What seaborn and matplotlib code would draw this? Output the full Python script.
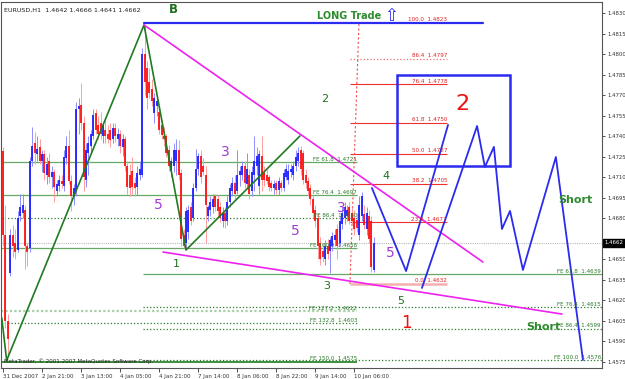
import matplotlib
matplotlib.use("Agg")
import matplotlib.pyplot as plt
from matplotlib.patches import Rectangle
from matplotlib.transforms import blended_transform_factory
import numpy as np
import pandas as pd
import seaborn as sns

# ---------------- data ----------------
opens = [1.4729, 1.4668, 1.4605, 1.4640, 1.4668, 1.4662, 1.4657, 1.4682, 1.4684, 1.4686,
         1.4660, 1.4658, 1.4722, 1.4735, 1.4727, 1.4732, 1.4722, 1.4727, 1.4712, 1.4722,
         1.4710, 1.4714, 1.4700, 1.4704, 1.4707, 1.4704, 1.4724, 1.4733, 1.4707, 1.4696,
         1.4700, 1.4760, 1.4763, 1.4750, 1.4708, 1.4728, 1.4733, 1.4740, 1.4757, 1.4748,
         1.4750, 1.4740, 1.4745, 1.4742, 1.4745, 1.4738, 1.4746, 1.4738, 1.4742, 1.4732,
         1.4738, 1.4718, 1.4712, 1.4715, 1.4706, 1.4703, 1.4712, 1.4712, 1.4800, 1.4790,
         1.4780, 1.4775, 1.4757, 1.4762, 1.4758, 1.4748, 1.4740, 1.4740, 1.4730, 1.4715,
         1.4718, 1.4722, 1.4730, 1.4713, 1.4668, 1.4662, 1.4670, 1.4688, 1.4680, 1.4702,
         1.4716, 1.4726, 1.4718, 1.4712, 1.4682, 1.4686, 1.4688, 1.4696, 1.4694, 1.4688,
         1.4678, 1.4684, 1.4678, 1.4692, 1.4700, 1.4706, 1.4700, 1.4712, 1.4712, 1.4718,
         1.4705, 1.4712, 1.4700, 1.4712, 1.4718, 1.4704, 1.4726, 1.4714, 1.4712, 1.4710,
         1.4706, 1.4702, 1.4706, 1.4701, 1.4706, 1.4702, 1.4710, 1.4708, 1.4714, 1.4712,
         1.4718, 1.4722, 1.4730, 1.4728, 1.4712, 1.4707, 1.4702, 1.4694, 1.4686, 1.4680,
         1.4662, 1.4656, 1.4650, 1.4660, 1.4656, 1.4660, 1.4664, 1.4672, 1.4662, 1.4676,
         1.4680, 1.4682, 1.4688, 1.4684, 1.4680, 1.4679, 1.4668, 1.4682, 1.4683, 1.4672,
         1.4682, 1.4678, 1.4642]
highs = [1.4732, 1.4690, 1.4610, 1.4672, 1.4675, 1.4672, 1.4685, 1.4698, 1.4698, 1.4690,
         1.4662, 1.4725, 1.4747, 1.4743, 1.4740, 1.4738, 1.4730, 1.4730, 1.4725, 1.4728,
         1.4718, 1.4716, 1.4708, 1.4712, 1.4712, 1.4730, 1.4740, 1.4745, 1.4712, 1.4705,
         1.4765, 1.4768, 1.4779, 1.4755, 1.4735, 1.4740, 1.4745, 1.4760, 1.4760, 1.4755,
         1.4758, 1.4750, 1.4752, 1.4748, 1.4750, 1.4750, 1.4750, 1.4746, 1.4745, 1.4742,
         1.4740, 1.4722, 1.4720, 1.4725, 1.4710, 1.4718, 1.4722, 1.4805, 1.4821, 1.4795,
         1.4790, 1.4782, 1.4772, 1.4770, 1.4760, 1.4752, 1.4747, 1.4742, 1.4734, 1.4725,
         1.4735, 1.4738, 1.4737, 1.4716, 1.4672, 1.4688, 1.4690, 1.4692, 1.4706, 1.4731,
         1.4728, 1.4730, 1.4724, 1.4718, 1.4690, 1.4696, 1.4698, 1.4698, 1.4697, 1.4692,
         1.4688, 1.4688, 1.4696, 1.4705, 1.4710, 1.4712, 1.4730, 1.4718, 1.4722, 1.4722,
         1.4728, 1.4716, 1.4718, 1.4740, 1.4732, 1.4730, 1.4740, 1.4718, 1.4716, 1.4712,
         1.4708, 1.4708, 1.4708, 1.4710, 1.4708, 1.4716, 1.4720, 1.4720, 1.4720, 1.4722,
         1.4730, 1.4732, 1.4733, 1.4730, 1.4716, 1.4710, 1.4705, 1.4697, 1.4690, 1.4684,
         1.4666, 1.4662, 1.4664, 1.4665, 1.4666, 1.4670, 1.4672, 1.4676, 1.4682, 1.4688,
         1.4692, 1.4690, 1.4692, 1.4688, 1.4686, 1.4684, 1.4696, 1.4699, 1.4690, 1.4688,
         1.4686, 1.4682, 1.4666]
lows = [1.4660, 1.4600, 1.4580, 1.4638, 1.4652, 1.4650, 1.4655, 1.4678, 1.4680, 1.4643,
        1.4645, 1.4655, 1.4718, 1.4720, 1.4722, 1.4720, 1.4714, 1.4708, 1.4705, 1.4706,
        1.4702, 1.4692, 1.4696, 1.4700, 1.4702, 1.4700, 1.4720, 1.4705, 1.4685, 1.4690,
        1.4696, 1.4742, 1.4745, 1.4700, 1.4703, 1.4712, 1.4728, 1.4738, 1.4742, 1.4738,
        1.4738, 1.4735, 1.4735, 1.4735, 1.4732, 1.4735, 1.4736, 1.4733, 1.4728, 1.4726,
        1.4715, 1.4698, 1.4696, 1.4698, 1.4696, 1.4697, 1.4708, 1.4710, 1.4770, 1.4760,
        1.4768, 1.4762, 1.4750, 1.4755, 1.4742, 1.4738, 1.4733, 1.4725, 1.4715, 1.4710,
        1.4714, 1.4712, 1.4708, 1.4660, 1.4658, 1.4658, 1.4665, 1.4675, 1.4678, 1.4700,
        1.4712, 1.4706, 1.4712, 1.4662, 1.4678, 1.4682, 1.4684, 1.4685, 1.4680, 1.4677,
        1.4674, 1.4673, 1.4675, 1.4688, 1.4696, 1.4694, 1.4698, 1.4704, 1.4708, 1.4702,
        1.4702, 1.4694, 1.4696, 1.4700, 1.4712, 1.4698, 1.4700, 1.4704, 1.4705, 1.4700,
        1.4700, 1.4698, 1.4698, 1.4697, 1.4699, 1.4700, 1.4708, 1.4705, 1.4710, 1.4708,
        1.4715, 1.4718, 1.4712, 1.4705, 1.4702, 1.4696, 1.4690, 1.4680, 1.4674, 1.4650,
        1.4646, 1.4648, 1.4646, 1.4650, 1.4640, 1.4656, 1.4660, 1.4650, 1.4660, 1.4672,
        1.4676, 1.4678, 1.4676, 1.4675, 1.4668, 1.4670, 1.4664, 1.4678, 1.4672, 1.4668,
        1.4662, 1.4641, 1.4641]
closes = [1.4668, 1.4605, 1.4592, 1.4668, 1.4660, 1.4655, 1.4680, 1.4688, 1.4690, 1.4660,
          1.4655, 1.4722, 1.4733, 1.4728, 1.4731, 1.4722, 1.4727, 1.4713, 1.4720, 1.4710,
          1.4714, 1.4703, 1.4705, 1.4708, 1.4705, 1.4725, 1.4733, 1.4707, 1.4696, 1.4702,
          1.4760, 1.4762, 1.4750, 1.4710, 1.4730, 1.4735, 1.4742, 1.4756, 1.4745, 1.4742,
          1.4742, 1.4748, 1.4740, 1.4738, 1.4737, 1.4746, 1.4740, 1.4742, 1.4733, 1.4738,
          1.4718, 1.4703, 1.4702, 1.4703, 1.4702, 1.4713, 1.4716, 1.4800, 1.4780, 1.4768,
          1.4772, 1.4766, 1.4768, 1.4766, 1.4745, 1.4741, 1.4738, 1.4728, 1.4718, 1.4722,
          1.4730, 1.4730, 1.4712, 1.4665, 1.4660, 1.4685, 1.4686, 1.4678, 1.4702, 1.4716,
          1.4726, 1.4710, 1.4714, 1.4690, 1.4688, 1.4692, 1.4694, 1.4688, 1.4685, 1.4680,
          1.4684, 1.4678, 1.4692, 1.4702, 1.4706, 1.4698, 1.4712, 1.4715, 1.4718, 1.4706,
          1.4716, 1.4698, 1.4714, 1.4722, 1.4726, 1.4727, 1.4708, 1.4708, 1.4707, 1.4703,
          1.4702, 1.4705, 1.4701, 1.4707, 1.4702, 1.4713, 1.4716, 1.4715, 1.4716, 1.4718,
          1.4725, 1.4728, 1.4716, 1.4708, 1.4706, 1.4700, 1.4694, 1.4684, 1.4678, 1.4660,
          1.4650, 1.4652, 1.4660, 1.4654, 1.4664, 1.4667, 1.4668, 1.4660, 1.4678, 1.4684,
          1.4688, 1.4686, 1.4678, 1.4678, 1.4672, 1.4673, 1.4690, 1.4696, 1.4675, 1.4684,
          1.4665, 1.4644, 1.4662]

x_tick_bars = [0, 16, 32, 48, 64, 80, 96, 112, 128, 144]
x_tick_labels = ["31 Dec 2007", "2 Jan 21:00", "3 Jan 13:00", "4 Jan 05:00", "4 Jan 21:00",
                 "7 Jan 14:00", "8 Jan 06:00", "8 Jan 22:00", "9 Jan 14:00", "10 Jan 06:00"]
y_tick_values = [1.4575, 1.4590, 1.4605, 1.4620, 1.4635, 1.4650, 1.4680, 1.4695, 1.4710,
                 1.4725, 1.4740, 1.4755, 1.4770, 1.4785, 1.4800, 1.4815, 1.4830]
current_price = 1.4662

# green zigzag
zz_bars = [-0.5, 1.5, 57.8, 75.0, 121.7]
zz_prices = [1.4607, 1.4576, 1.48216, 1.46568, 1.47403]
# magenta trend lines
mag_upper_bars = [57.8, 196.7]
mag_upper_prices = [1.48216, 1.46480]
mag_lower_bars = [65.6, 229.1]
mag_lower_prices = [1.46553, 1.46099]
# blue 100% line
blue_top_bars = [57.8, 196.7]
blue_top_prices = [1.4823, 1.4823]
# blue projection paths
projA_bars = [151.2, 165.2, 182.4]
projA_prices = [1.47022, 1.46414, 1.47484]
projB_bars = [171.7, 194.3, 197.5, 201.2, 204.5, 207.8, 213.1, 226.6, 237.7]
projB_prices = [1.46290, 1.47476, 1.47176, 1.47323, 1.46722, 1.46854, 1.46422, 1.47249, 1.45762]
# target box
box_bars = [161.5, 207.8]
box_prices = [1.47183, 1.4785]

# Fibonacci retracement
fib_pcts = ["100.0", "86.4", "76.4", "61.8", "50.0", "38.2", "23.6", "0.0"]
fib_prices = [1.4823, 1.4797, 1.4778, 1.4750, 1.4727, 1.4705, 1.4677, 1.4632]
fib_base_bars = [142.2, 145.9]
fib_base_prices = [1.4632, 1.4823]
fib_span = [142.2, 182.0]

# Fibonacci expansions
fe1_pcts = ["61.8", "76.4", "86.4", "100.0", "127.2", "132.8", "150.0"]
fe1_prices = [1.4721, 1.4697, 1.4680, 1.4658, 1.4612, 1.4603, 1.4575]
fe1_span = [-1.0, 145.1]
fe2_pcts = ["61.8", "76.4", "86.4", "100.0"]
fe2_prices = [1.4639, 1.4615, 1.4599, 1.4576]
fe2_span = [57.4, 245.5]

# ---------------- style ----------------
sns.set_style("white")
plt.rcParams['font.family'] = ['DejaVu Sans']

W, H = 625, 379
fig = plt.figure(figsize=(W / 100, H / 100), dpi=100)
fig.patch.set_facecolor("white")
ax = fig.add_axes([1 / W, 11 / H, 601 / W, 366 / H])
ax.set_xlim(-0.82, 245.5)
ax.set_ylim(1.45704, 1.48384)

GREEN_T = "#1f6f1f"
GREEN_L = "#66aa66"
GREEN_D = "#2a7a2a"
PURPLE = "#a23cd2"
BLUE = "#2b2bef"
MAG = "#ee22ee"
SMALL = 4.1

# ---------------- candles ----------------
n = min(len(opens), len(highs), len(lows), len(closes))
df = pd.DataFrame({"bar": np.arange(n), "open": opens[:n], "high": highs[:n],
                   "low": lows[:n], "close": closes[:n]})
df["hi"] = df[["high", "open", "close"]].max(axis=1)
df["lo"] = df[["low", "open", "close"]].min(axis=1)
bull = df["close"] >= df["open"]
ax.vlines(df.bar[bull], df.lo[bull], df.hi[bull], color="#8f8fff", lw=0.7, zorder=3)
ax.vlines(df.bar[~bull], df.lo[~bull], df.hi[~bull], color="#ff9c9c", lw=0.7, zorder=3)
ax.vlines(df.bar[bull], df.open[bull], df.close[bull], color="#1f1fff", lw=1.3, zorder=4)
ax.vlines(df.bar[~bull], df.close[~bull], df.open[~bull], color="#ff1010", lw=1.3, zorder=4)

# ---------------- current price line ----------------
ax.axhline(current_price, color="#b8b8b8", lw=0.8, ls=(0, (1, 1)), zorder=1)

# ---------------- FE levels ----------------
fe1_styles = ["-", "-", ":", "-", (0, (1, 1)), ":", "-"]
fe1_colors = [GREEN_L, GREEN_L, GREEN_D, GREEN_L, "#a9cfa9", GREEN_D, "#3f8f3f"]
fe1_widths = [0.9, 0.9, 0.9, 0.9, 1.6, 0.9, 1.4]
for p, v, s, c, w in zip(fe1_pcts, fe1_prices, fe1_styles, fe1_colors, fe1_widths):
    ax.hlines(v, fe1_span[0], fe1_span[1], color=c, lw=w, ls=s, zorder=2)
    ax.text(fe1_span[1], v + 0.00004, f"FE {p}  {v:.4f}", color=GREEN_D, fontsize=SMALL,
            ha="right", va="bottom", zorder=6)
fe2_styles = ["-", ":", ":", ":"]
for p, v, s in zip(fe2_pcts, fe2_prices, fe2_styles):
    ax.hlines(v, fe2_span[0], fe2_span[1], color=GREEN_L if s == "-" else GREEN_D,
              lw=0.9, ls=s, zorder=2)
    ax.text(fe2_span[1] - 0.5, v + 0.00004, f"FE {p}  {v:.4f}", color=GREEN_D, fontsize=SMALL,
            ha="right", va="bottom", zorder=6)

# ---------------- Fibonacci retracement ----------------
for p, v in zip(fib_pcts, fib_prices):
    if p == "100.0":
        pass
    elif p == "86.4":
        ax.hlines(v, fib_span[0], fib_span[1], color="#f07070", lw=0.9, ls=":", zorder=2)
    elif p == "0.0":
        ax.hlines(v, fib_span[0], fib_span[1], color="#f4b0b0", lw=1.8, zorder=2)
    else:
        ax.hlines(v, fib_span[0], fib_span[1], color="#f03030", lw=0.8, zorder=2)
    ax.text(fib_span[1], v + 0.00005, f"{p}  {v:.4f}", color="#e02020", fontsize=SMALL,
            ha="right", va="bottom", zorder=6)
sns.lineplot(x=fib_base_bars, y=fib_base_prices, sort=False, estimator=None,
             color="#f05050", lw=0.8, ls=(0, (2, 2)), ax=ax, zorder=2)

# ---------------- lines ----------------
sns.lineplot(x=blue_top_bars, y=blue_top_prices, sort=False, estimator=None,
             color=BLUE, lw=1.6, ax=ax, zorder=5)
sns.lineplot(x=zz_bars, y=zz_prices, sort=False, estimator=None,
             color="#207a20", lw=1.2, ax=ax, zorder=5)
sns.lineplot(x=mag_upper_bars, y=mag_upper_prices, sort=False, estimator=None,
             color=MAG, lw=1.2, ax=ax, zorder=5)
sns.lineplot(x=mag_lower_bars, y=mag_lower_prices, sort=False, estimator=None,
             color=MAG, lw=1.2, ax=ax, zorder=5)
sns.lineplot(x=projA_bars, y=projA_prices, sort=False, estimator=None,
             color=BLUE, lw=1.3, ax=ax, zorder=5)
sns.lineplot(x=projB_bars, y=projB_prices, sort=False, estimator=None,
             color=BLUE, lw=1.3, ax=ax, zorder=5)
ax.add_patch(Rectangle((box_bars[0], box_prices[0]), box_bars[1] - box_bars[0],
                       box_prices[1] - box_prices[0], fill=False, ec=BLUE, lw=1.8, zorder=5))

# ---------------- annotations ----------------
def lab(x, y, s, color, size, weight="normal"):
    ax.text(x, y, s, color=color, fontsize=size, fontweight=weight,
            ha="center", va="center", zorder=7)

lab(69.7, 1.48326, "B", GREEN_T, 8.5, "bold")
lab(141.8, 1.48282, "LONG Trade", "#2e8b2e", 7, "bold")
ax.text(159.0, 1.48282, "\u21e7", color=BLUE, fontsize=12, ha="center", va="center", zorder=7)
lab(132.0, 1.47674, "2", GREEN_T, 8)
lab(91.0, 1.47286, "3", PURPLE, 10)
lab(63.5, 1.46898, "5", PURPLE, 10)
lab(70.9, 1.46466, "1", GREEN_T, 8)
lab(157.0, 1.47110, "4", GREEN_T, 8)
lab(138.5, 1.46876, "3", PURPLE, 10)
lab(119.7, 1.46707, "5", PURPLE, 10)
lab(158.6, 1.46546, "5", PURPLE, 10)
lab(132.8, 1.46304, "3", GREEN_T, 8)
lab(163.1, 1.46195, "5", GREEN_T, 8)
lab(165.2, 1.46033, "1", "#ee1111", 12)
lab(188.1, 1.47637, "2", "#ee1111", 16)
lab(221.3, 1.46004, "Short", "#2e8b2e", 8, "bold")
lab(234.4, 1.46934, "Short", "#2e8b2e", 8, "bold")

ax.text(0.005, 0.985, "EURUSD,H1  1.4642 1.4666 1.4641 1.4662", transform=ax.transAxes,
        fontsize=4.6, va="top", ha="left", color="#222222", zorder=8)
ax.text(0.005, 0.018, "MetaTrader, \u00a9 2001-2007 MetaQuotes Software Corp.",
        transform=ax.transAxes, fontsize=4.0, va="center", ha="left", color="#222222", zorder=8)

# ---------------- axes ----------------
ax.yaxis.tick_right()
ax.set_yticks(y_tick_values)
ax.set_yticklabels([f"{v:.4f}" for v in y_tick_values])
ax.set_xticks(x_tick_bars)
ax.set_xticklabels(x_tick_labels)
for t in ax.get_xticklabels():
    t.set_horizontalalignment("left")
ax.tick_params(axis="y", which="both", right=True, left=False, length=2.5, width=0.6,
               labelsize=3.9, pad=1.2, colors="#333333", direction="out")
ax.tick_params(axis="x", which="both", bottom=True, length=3, width=0.6,
               labelsize=4.0, pad=1.5, colors="#333333", direction="out")
ax.set_xlabel("")
ax.set_ylabel("")
for sp in ax.spines.values():
    sp.set_visible(True)
    sp.set_color("#555555")
    sp.set_linewidth(0.8)
ax.grid(False)

trans = blended_transform_factory(ax.transAxes, ax.transData)
ax.text(1.004, current_price, "1.4662", transform=trans, fontsize=3.9, color="white",
        ha="left", va="center", zorder=9, clip_on=False,
        bbox=dict(boxstyle="square,pad=0.25", fc="black", ec="black"))

fig.savefig("out.png", dpi=100)
